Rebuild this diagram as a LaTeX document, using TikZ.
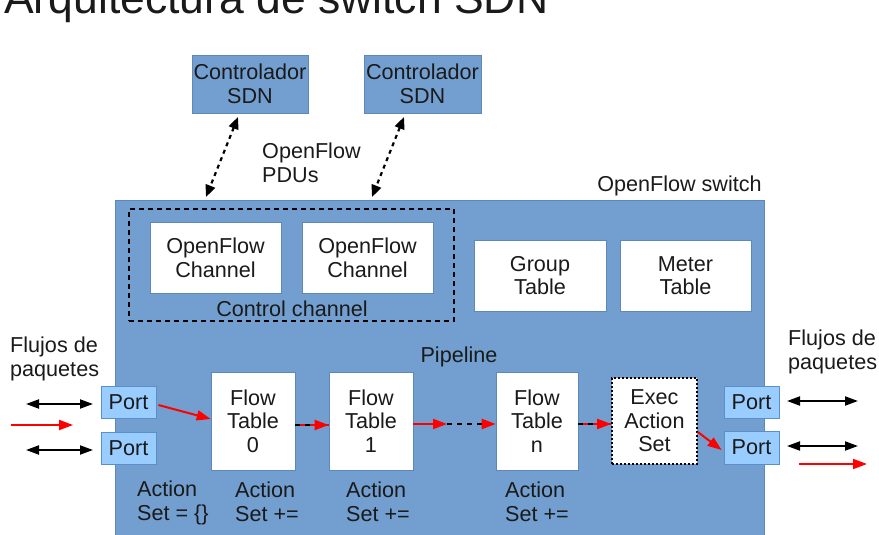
\documentclass[tikz,border=0pt]{standalone}
\usepackage{fontspec}
\setmainfont{Liberation Sans}
\usetikzlibrary{arrows.meta,positioning}
\definecolor{swblue}{HTML}{729FCF}
\definecolor{swedge}{HTML}{5E88B8}
\definecolor{portfill}{HTML}{99CCFF}
\definecolor{portedge}{HTML}{5B8FCB}
\definecolor{txt}{HTML}{1A1A1A}
\tikzset{
  every node/.style={font=\fontsize{21.6}{23.6}\selectfont, text=txt, align=center, inner sep=0pt},
  ctrlbox/.style={draw=swedge, fill=swblue, line width=0.8pt, minimum width=116pt, minimum height=58pt},
  whitebox/.style={draw=swedge, fill=white, line width=0.6pt},
  portbox/.style={draw=portedge, fill=portfill, line width=0.8pt, minimum width=55pt, minimum height=32pt},
  ctlarrow/.style={black, line width=2.2pt, dash pattern=on 4pt off 4pt,
    {Triangle[length=12pt,width=10pt]}-{Triangle[length=12pt,width=10pt]}},
  dblarrow/.style={black, line width=2pt,
    {Triangle[length=13pt,width=9pt]}-{Triangle[length=13pt,width=9pt]}},
  redarrow/.style={red, line width=2pt, -{Triangle[length=14pt,width=10pt]}},
  redline/.style={red, line width=2pt},
  blkdash/.style={black, line width=2.2pt, dash pattern=on 5pt off 5pt},
  redtip/.style={-{Triangle[length=14pt,width=10pt,color=red]}},
  lefttext/.style={align=left}
}
\begin{document}
\begin{tikzpicture}[x=1pt,y=-1pt]
\useasboundingbox (0,0) rectangle (879,535);
\clip (0,0) rectangle (879,535);

% heading, its upper part lies above the page
\node[font=\fontsize{44.5}{50}\selectfont, anchor=base west] (title) at (4,14) {Arquitectura de switch SDN};

% the switch body
\node[draw=swedge, fill=swblue, line width=0.8pt, anchor=north west,
      minimum width=649pt, minimum height=345pt] (sw) at (115,200) {};
\node[anchor=base] (swlabel) at (679.5,191) {OpenFlow switch};

% controllers
\node[ctrlbox] (ctrl1) at (250,84) {Controlador\\SDN};
\node[ctrlbox, minimum width=117pt] (ctrl2) at (422.5,84) {Controlador\\SDN};
\node[lefttext, anchor=north west] (pdu) at (262,143) {OpenFlow\\PDUs};

% control channel
\node[draw=black, line width=2.5pt, dash pattern=on 5pt off 4pt,
      minimum width=325pt, minimum height=112pt] (cc) at (291.5,265) {};
\node[whitebox, minimum width=131pt, minimum height=71pt] (ofc1) at (215.5,257.5) {OpenFlow\\Channel};
\node[whitebox, minimum width=131pt, minimum height=71pt] (ofc2) at (367.5,257.5) {OpenFlow\\Channel};
\node[anchor=base] (cclabel) at (292,316) {Control channel};

% group and meter tables
\node[whitebox, minimum width=132pt, minimum height=71pt] (group) at (540,275.5) {Group\\Table};
\node[whitebox, minimum width=131pt, minimum height=71pt] (meter) at (685.5,275.5) {Meter\\Table};

% pipeline
\node[anchor=base] (pipe) at (459,362) {Pipeline};
\node[whitebox, minimum width=84pt, minimum height=98pt] (ft0) at (253,421) {Flow\\Table\\0};
\node[whitebox, minimum width=84pt, minimum height=98pt] (ft1) at (371,421) {Flow\\Table\\1};
\node[whitebox, minimum width=82pt, minimum height=98pt] (ftn) at (537,421) {Flow\\Table\\n};
\node[draw=black, fill=white, line width=1.6pt, dash pattern=on 2pt off 2pt,
      minimum width=85pt, minimum height=86pt] (exec) at (654.5,421) {Exec\\Action\\Set};

% ports
\node[portbox] (p1) at (128.5,402) {Port};
\node[portbox] (p2) at (128.5,448) {Port};
\node[portbox] (p3) at (751.5,402) {Port};
\node[portbox, minimum height=33pt] (p4) at (751.5,447.5) {Port};

% action set notes
\node[lefttext, anchor=north west] (as0) at (137,481) {Action\\Set = \{\}};
\node[lefttext, anchor=north west] (as1) at (235,482) {Action\\Set +=};
\node[lefttext, anchor=north west] (as2) at (346,482) {Action\\Set +=};
\node[lefttext, anchor=north west] (as3) at (505,482) {Action\\Set +=};

% packet flows, left and right
\node[lefttext, anchor=north west] (flowl) at (10,337) {Flujos de\\paquetes};
\node[lefttext, anchor=north west] (flowr) at (788,330) {Flujos de\\paquetes};

% controller links
\coordinate (c1a) at (238,117);
\coordinate (c1b) at (206,197);
\coordinate (c2a) at (404,117);
\coordinate (c2b) at (372,197);
\draw[ctlarrow] (c1a) -- (c1b);
\draw[ctlarrow] (c2a) -- (c2b);

% outside flows
\coordinate (l1a) at (26,404);  \coordinate (l1b) at (93,404);
\coordinate (l2a) at (11,425);  \coordinate (l2b) at (73,425);
\coordinate (l3a) at (26,450);  \coordinate (l3b) at (93,450);
\coordinate (r1a) at (787,401); \coordinate (r1b) at (858,401);
\coordinate (r2a) at (787,446); \coordinate (r2b) at (858,446);
\coordinate (r3a) at (799,464); \coordinate (r3b) at (867,464);
\draw[dblarrow] (l1a) -- (l1b);
\draw[redarrow] (l2a) -- (l2b);
\draw[dblarrow] (l3a) -- (l3b);
\draw[dblarrow] (r1a) -- (r1b);
\draw[dblarrow] (r2a) -- (r2b);
\draw[redarrow] (r3a) -- (r3b);

% packet path through the pipeline
\draw[redarrow] ([xshift=2pt,yshift=-3pt]p1.east) -- ([yshift=2pt]ft0.west);
\draw[redline] ([yshift=-4pt]ft0.east) -- ([yshift=-4pt]ft1.west);
\draw[blkdash, redtip] ([yshift=-4pt]ft0.east) -- ([yshift=-4pt]ft1.west);
\coordinate (gap) at (447,424);
\draw[redarrow] ([yshift=-3pt]ft1.east) -- (gap);
\draw[blkdash, redtip] (gap) -- ([yshift=-3pt]ftn.west);
\draw[redline] ([yshift=-3pt]ftn.east) -- ([yshift=-3pt]exec.west);
\draw[blkdash, redtip] ([yshift=-3pt]ftn.east) -- ([yshift=-3pt]exec.west);
\draw[redarrow] ([yshift=-11pt]exec.east) -- ([xshift=-2pt,yshift=-2.5pt]p4.west);
\end{tikzpicture}
\end{document}
